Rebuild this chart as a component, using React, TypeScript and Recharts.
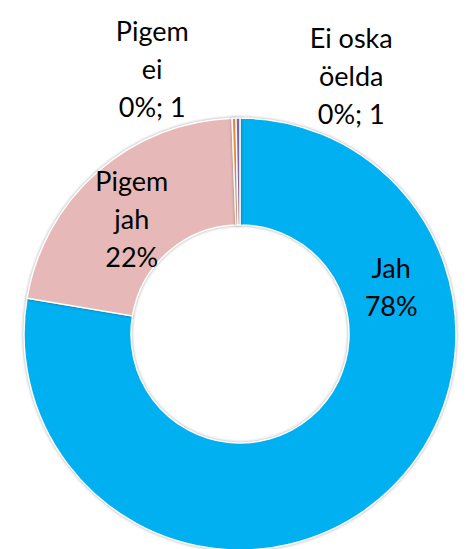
import { PieChart, Pie, Cell } from 'recharts';

const categories = ['Jah', 'Pigem jah', 'Pigem ei', 'Ei oska öelda'];
const counts = [264, 74, 1, 1];
const colors = ['#00B0F0', '#E6B9B8', '#F79646', '#8064A2'];

// where each label sits: angle in degrees (counter-clockwise from 3 o'clock), distance from centre
const labelLayout: Record<string, { angle: number; dist: number }> = {
    'Jah': { angle: 16.9, dist: 158 },
    'Pigem jah': { angle: 133.6, dist: 157 },
    'Pigem ei': { angle: 108.4, dist: 278 },
    'Ei oska öelda': { angle: 66.6, dist: 280 },
};

const data = categories.map((name, i) => ({ name, value: counts[i] }));

const RAD = Math.PI / 180;
const LINE = 38;

function wrap(text: string, max = 7) {
    const lines: string[] = [];
    let cur = '';
    text.split(' ').forEach(w => {
        if (!cur) cur = w;
        else if ((cur + ' ' + w).length <= max) cur += ' ' + w;
        else {
            lines.push(cur);
            cur = w;
        }
    });
    if (cur) lines.push(cur);
    return lines;
}

function renderLabel(props: any) {
    const { cx, cy, name, value, percent } = props;
    const pos = labelLayout[name];
    const x = cx + pos.dist * Math.cos(pos.angle * RAD);
    const y = cy - pos.dist * Math.sin(pos.angle * RAD);
    const pct = Math.round(percent * 100);
    const lines = wrap(name);
    lines.push(percent < 0.01 ? `${pct}%; ${value}` : `${pct}%`);
    const first = y + 9 - ((lines.length - 1) * LINE) / 2;
    return (
        <text
            key={name}
            x={x}
            y={first}
            textAnchor="middle"
            fill="#000"
            fontSize={27}
            fontFamily="Lato, 'Open Sans', sans-serif"
        >
            {lines.map((l, i) => (
                <tspan key={i} x={x} y={first + i * LINE}>
                    {l}
                </tspan>
            ))}
        </text>
    );
}

export default function App() {
    return (
        <div style={{ position: 'absolute', left: 0, top: 0, width: 470, height: 549, background: '#fff' }}>
            <style>{`.recharts-pie-sector path { filter: drop-shadow(0 0 1.5px rgba(0,0,0,0.35)); }`}</style>
            <PieChart width={470} height={549} margin={{ top: 0, right: 0, bottom: 0, left: 0 }}>
                <Pie
                    data={data}
                    dataKey="value"
                    nameKey="name"
                    cx={240}
                    cy={334}
                    innerRadius={109}
                    outerRadius={216}
                    startAngle={90}
                    endAngle={-270}
                    stroke="#fff"
                    strokeWidth={1.5}
                    label={renderLabel}
                    labelLine={false}
                    isAnimationActive={false}
                >
                    {data.map((d, i) => (
                        <Cell key={d.name} fill={colors[i]} />
                    ))}
                </Pie>
            </PieChart>
        </div>
    );
}
